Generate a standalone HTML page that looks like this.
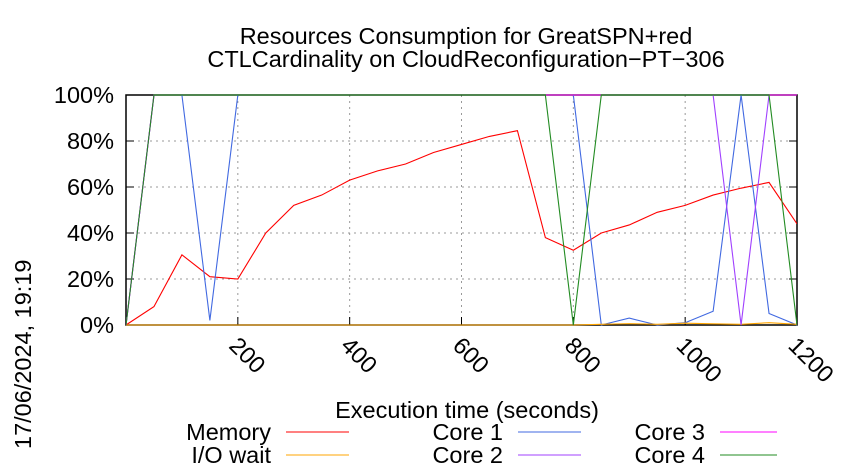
<!DOCTYPE html>
<html><head><meta charset="utf-8"><style>
body{margin:0;background:#fff}
svg{display:block;font-family:"Liberation Sans",sans-serif}
</style></head><body>
<svg width="850" height="475" viewBox="0 0 850 475">
<g id="grid"></g>
<g id="axes"></g>
<g id="series"></g>
<text x="466" y="44" text-anchor="middle" font-size="23.5">Resources Consumption for GreatSPN+red</text>
<text x="466" y="67" text-anchor="middle" font-size="23.5">CTLCardinality on CloudReconfiguration−PT−306</text>
<text x="467" y="418" text-anchor="middle" font-size="23.5">Execution time (seconds)</text>
<text transform="translate(31,449) rotate(-90)" font-size="23.5">17/06/2024, 19:19</text>
<g id="legend"></g>
</svg>
<script>
const times=[0,50,100,150,200,250,300,350,400,450,500,550,600,650,700,750,800,850,900,950,1000,1050,1100,1150,1200];
const memory=[0,8,30.5,21,20,40,52,56.5,63,67,70,75,78.5,82,84.5,38,32.5,40,43.5,49,52,56.5,59.5,62,44];
const core1=[0,100,100,2,100,100,100,100,100,100,100,100,100,100,100,100,100,0,3,0,1,6,100,5,0];
const core2=[0,100,100,100,100,100,100,100,100,100,100,100,100,100,100,100,100,100,100,100,100,100,0,100,100];
const core3=[0,100,100,100,100,100,100,100,100,100,100,100,100,100,100,100,100,100,100,100,100,100,100,100,100];
const core4=[0,100,100,100,100,100,100,100,100,100,100,100,100,100,100,100,0,100,100,100,100,100,100,100,0];
const iowait=[0,0,0,0,0,0,0,0,0,0,0,0,0,0,0,0,0,0.3,0.6,0.3,0.8,0.5,0.3,1,0.3];
const xTicks=[200,400,600,800,1000,1200];
const yTicks=[0,20,40,60,80,100];
const X0=126,X1=797,Y0=325,Y1=95;
const sx=t=>X0+(X1-X0)*t/1200, sy=v=>Y0-(Y0-Y1)*v/100;
const NS="http://www.w3.org/2000/svg";
function mk(tag,attrs,parent){const e=document.createElementNS(NS,tag);for(const k in attrs)e.setAttribute(k,attrs[k]);parent.appendChild(e);return e;}
const grid=document.getElementById('grid'),axes=document.getElementById('axes'),series=document.getElementById('series'),legend=document.getElementById('legend');
yTicks.forEach(v=>{
 const y=sy(v);
 if(v>0&&v<100){const l=mk('line',{x1:X0,x2:X1,y1:y,y2:y,stroke:'#999','stroke-dasharray':'2,4'},grid);
 
 }
 const t=mk('text',{x:114,y:y+8,'text-anchor':'end','font-size':'23.5'},axes);t.textContent=v+'%';
 
 
 mk('line',{x1:X0,x2:X0+8,y1:y,y2:y,stroke:'#000'},axes);
 mk('line',{x1:X1,x2:X1-8,y1:y,y2:y,stroke:'#000'},axes);
});
xTicks.forEach(v=>{
 const x=sx(v);
 const l=mk('line',{x1:x,x2:x,y1:Y1,y2:Y0,stroke:'#999','stroke-dasharray':'2,4'},grid);
 
 
 mk('line',{x1:x,x2:x,y1:Y0,y2:Y0-8,stroke:'#000'},axes);
 const t=mk('text',{transform:`translate(${x-10},${Y0+22}) rotate(45)`,'font-size':'23.5'},axes);t.textContent=v;
 
 
});
mk('rect',{x:X0,y:Y1,width:X1-X0,height:Y0-Y1,fill:'none',stroke:'#000','stroke-width':'1.5'},axes);
const defs=[['Memory',memory,'#ff0000'],['I/O wait',iowait,'#ffa500'],['Core 1',core1,'#4169e1'],['Core 2',core2,'#a040ff'],['Core 3',core3,'#ff00ff'],['Core 4',core4,'#228b22']];
const cp=mk('clipPath',{id:'cp'},series);
mk('rect',{x:X0,y:Y1-1,width:X1-X0,height:Y0-Y1+2},cp);
const order=[0,2,1,3,4,5];
order.forEach(i=>{
 const [name,vals,col]=defs[i];
 const p=mk('polyline',{points:vals.map((v,j)=>sx(times[j])+','+sy(v)).join(' '),fill:'none',stroke:col,'stroke-width':'1.1','clip-path':'url(#cp)'},series);
 
 
});
const legPos=[[271,440,63],[271,463,63],[503,440,63],[503,463,63],[705,440,57],[705,463,57]];
defs.forEach((d,k)=>{
 const [name,,col]=d;const [x,y,w]=legPos[k];
 const t=mk('text',{x:x,y:y,'text-anchor':'end','font-size':'23.5'},legend);t.textContent=name;
 
 
 const l=mk('line',{x1:x+15,x2:x+15+w,y1:y-8,y2:y-8,stroke:col,'stroke-width':'1.1'},legend);
 
 
});
</script>
</body></html>
